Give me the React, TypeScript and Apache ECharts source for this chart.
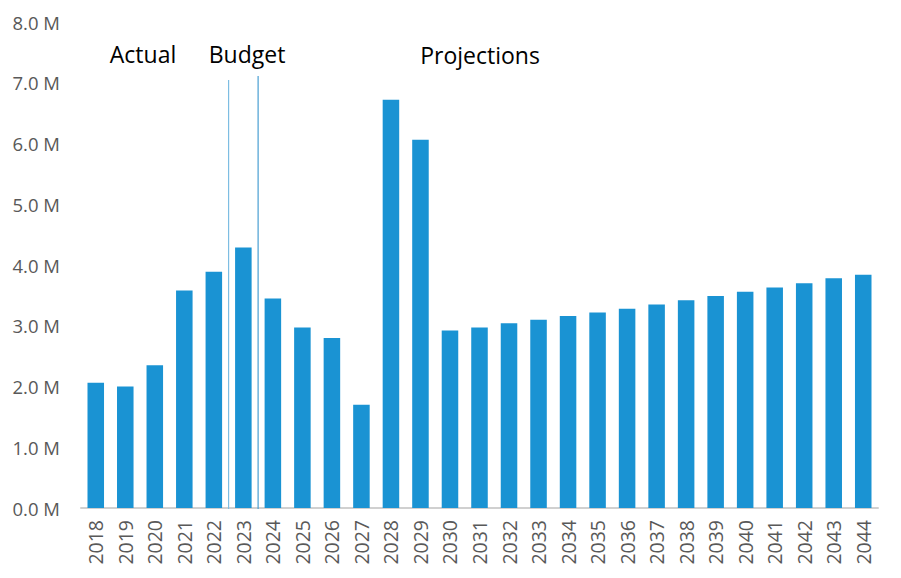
import React, { useEffect, useRef } from "react";
import * as echarts from "echarts";

const years = [
  "2018", "2019", "2020", "2021", "2022", "2023", "2024", "2025", "2026", "2027",
  "2028", "2029", "2030", "2031", "2032", "2033", "2034", "2035", "2036", "2037",
  "2038", "2039", "2040", "2041", "2042", "2043", "2044",
];
const values = [
  2.06, 2.0, 2.35, 3.58, 3.89, 4.29, 3.45, 2.97, 2.8, 1.7,
  6.72, 6.06, 2.92, 2.97, 3.04, 3.1, 3.16, 3.22, 3.28, 3.35,
  3.42, 3.49, 3.56, 3.63, 3.7, 3.78, 3.84,
];
const yTicks = { min: 0, max: 8, interval: 1 };
const sectionLabels = ["Actual", "Budget", "Projections"];
const dividerAfter = ["2022", "2023"];

export default function App() {
  const ref = useRef<HTMLDivElement>(null);
  useEffect(() => {
    if (!ref.current) return;
    const chart = echarts.init(ref.current, null, { renderer: "svg" });
    const font = "'Open Sans', 'Noto Sans', sans-serif";
    chart.setOption({
      animation: false,
      grid: { left: 81, right: 23, top: 22, bottom: 70, containLabel: false },
      xAxis: {
        type: "category",
        data: years,
        axisLine: { show: true, lineStyle: { color: "#d0d0d0", width: 2 } },
        axisTick: { show: false },
        axisLabel: {
          rotate: 90,
          color: "#595959",
          fontSize: 19.5,
          fontFamily: font,
          margin: 12,
        },
      },
      yAxis: {
        type: "value",
        min: yTicks.min,
        max: yTicks.max,
        interval: yTicks.interval,
        splitLine: { show: false },
        axisLine: { show: false },
        axisTick: { show: false },
        axisLabel: {
          color: "#595959",
          fontSize: 18.5,
          fontFamily: font,
          margin: 21,
          formatter: (v: number) => v.toFixed(1) + " M",
        },
      },
      series: [
        {
          type: "bar",
          data: values,
          barWidth: "56%",
          itemStyle: { color: "#1a93d3" },
        },
      ],
    });
    const x0 = chart.convertToPixel({ xAxisIndex: 0 }, dividerAfter[0]) as number;
    const x1 = chart.convertToPixel({ xAxisIndex: 0 }, years[years.indexOf(dividerAfter[0]) + 1]) as number;
    const x2 = chart.convertToPixel({ xAxisIndex: 0 }, years[years.indexOf(dividerAfter[1]) + 1]) as number;
    const l1 = (x0 + x1) / 2;
    const l2 = (x1 + x2) / 2;
    chart.setOption({
      graphic: [
        { type: "line", shape: { x1: l1, y1: 80, x2: l1, y2: 509 }, style: { stroke: "#7dbde2", lineWidth: 1.2 }, z: 10 },
        { type: "line", shape: { x1: l2, y1: 76, x2: l2, y2: 509 }, style: { stroke: "#4a9fd2", lineWidth: 1.2 }, z: 10 },
        { type: "text", x: 143, y: 54, style: { text: sectionLabels[0], fill: "#000", font: `23px ${font}`, textAlign: "center", textVerticalAlign: "middle" } },
        { type: "text", x: 247, y: 54, style: { text: sectionLabels[1], fill: "#000", font: `23px ${font}`, textAlign: "center", textVerticalAlign: "middle" } },
        { type: "text", x: 480, y: 55, style: { text: sectionLabels[2], fill: "#000", font: `23px ${font}`, textAlign: "center", textVerticalAlign: "middle" } },
      ],
    });
    return () => chart.dispose();
  }, []);
  return (
    <div
      ref={ref}
      style={{ position: "absolute", left: 0, top: 0, width: 901, height: 578 }}
    />
  );
}
